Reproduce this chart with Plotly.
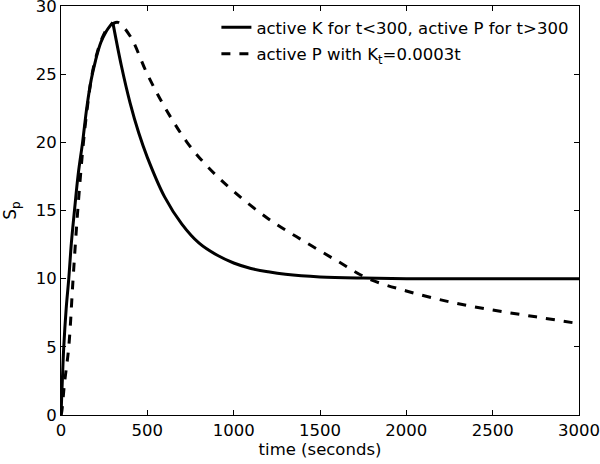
import plotly.graph_objects as go

# Solid: active K for t<300 (rise), active P for t>300 (decay)
t_rise = [0, 8, 16, 30, 45, 60, 78, 100, 125, 150, 175, 200, 230, 260, 300]
s_rise = [0, 2.6, 5.0, 7.8, 10.0, 12.6, 15.0, 17.7, 20.0, 22.6, 24.6, 26.0, 27.3, 28.1, 28.8]
t_decay = [300, 350, 400, 450, 500, 600, 700, 800, 900, 1000, 1100, 1200, 1300,
           1500, 1750, 2000, 2500, 3000]
s_decay = [28.8, 25.6, 22.9, 20.7, 18.9, 16.0, 14.0, 12.6, 11.75, 11.15, 10.75, 10.5, 10.32,
           10.13, 10.04, 10.0, 10.0, 10.0]

# Dashed: active P with K_t = 0.0003t
t_dash = [0, 5, 20, 45, 70, 97, 130, 155, 180, 210, 240, 270, 300, 330,
          400, 500, 600, 730, 850, 1000, 1200, 1400, 1600, 1780, 2000, 2250,
          2500, 2750, 3000]
s_dash = [0, 0.3, 2.3, 5.0, 10.0, 15.0, 20.0, 22.8, 25.0, 26.6, 27.7, 28.4, 28.7, 28.8,
          27.8, 25.0, 22.6, 20.0, 18.2, 16.4, 14.4, 12.8, 11.3, 10.0, 9.1, 8.3,
          7.7, 7.2, 6.7]

x_ticks = [0, 500, 1000, 1500, 2000, 2500, 3000]
y_ticks = [0, 5, 10, 15, 20, 25, 30]

FONT = "DejaVu Sans, Liberation Sans, Arial, sans-serif"

fig = go.Figure()
fig.add_trace(go.Scatter(
    x=t_rise, y=s_rise, mode="lines", line_shape="spline",
    line=dict(color="black", width=3),
    name="active K for t<300, active P for t>300", legendgroup="a"))
fig.add_trace(go.Scatter(
    x=t_decay, y=s_decay, mode="lines", line_shape="spline",
    line=dict(color="black", width=3),
    name="active K for t<300, active P for t>300", legendgroup="a", showlegend=False))
fig.add_trace(go.Scatter(
    x=t_dash, y=s_dash, mode="lines", line_shape="spline",
    line=dict(color="black", width=3, dash="dash"),
    name="active P with K<sub>t</sub>=0.0003t", legendgroup="b"))

axis_common = dict(
    showgrid=False, zeroline=False, showline=True, linecolor="black", linewidth=1,
    mirror="ticks", ticks="inside", ticklen=5, tickcolor="black",
    tickfont=dict(family=FONT, size=16.5, color="black"),
    ticklabeloverflow="allow",
)
fig.update_xaxes(range=[0, 3000], tickvals=x_ticks, **axis_common,
                 title=dict(text="time (seconds)", font=dict(family=FONT, size=16.5, color="black"),
                            standoff=3))
fig.update_yaxes(range=[0, 30], tickvals=y_ticks, **axis_common,
                 title=dict(text="S<sub>p</sub>", font=dict(family=FONT, size=17, color="black"),
                            standoff=14))

fig.update_layout(
    width=600, height=464,
    margin=dict(l=60.5, r=20.5, t=6, b=48.5, autoexpand=False),
    paper_bgcolor="white", plot_bgcolor="white",
    font=dict(family=FONT, size=16.5, color="black"),
    legend=dict(x=0.30, y=0.99, xanchor="left", yanchor="top",
                bgcolor="rgba(0,0,0,0)", borderwidth=0, tracegroupgap=2,
                font=dict(family=FONT, size=16.5, color="black")),
)

fig.write_html("out.html", config={"displayModeBar": False},
               post_script="document.body.style.margin='0';")
